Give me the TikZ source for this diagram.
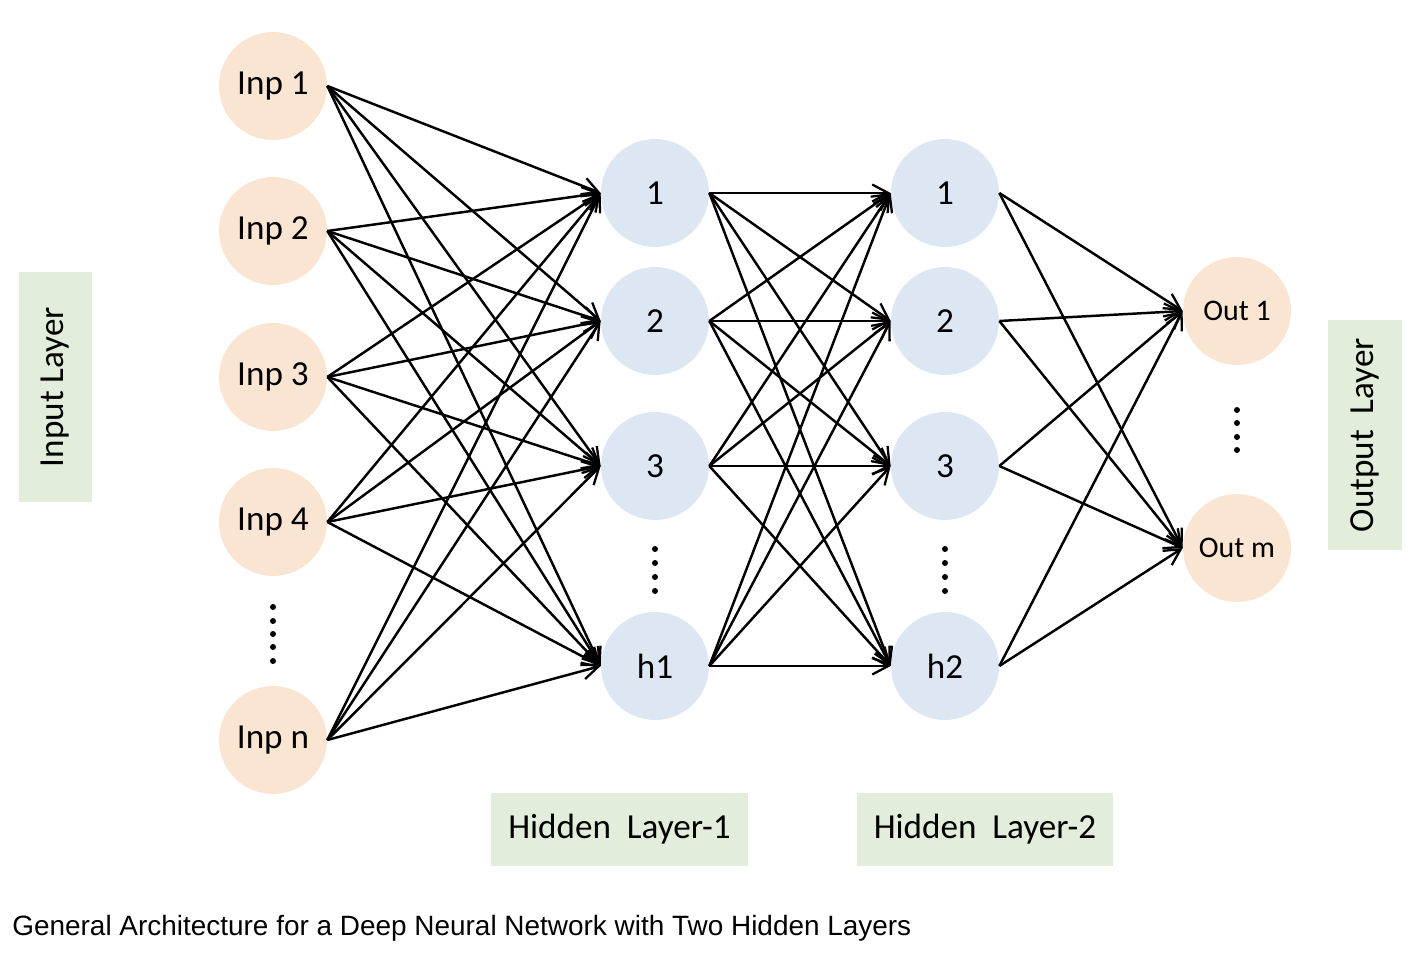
\documentclass[tikz,border=0pt]{standalone}
\usepackage{fontspec}
\setmainfont{Carlito}
\newfontfamily\captionfont{Liberation Sans}
\usetikzlibrary{arrows.meta}
\definecolor{peach}{RGB}{250,228,210}
\definecolor{paleblue}{RGB}{221,231,243}
\definecolor{palegreen}{RGB}{226,237,219}
\begin{document}
\begin{tikzpicture}[x=0.02cm,y=-0.02cm]

    \tikzset{
      inout/.style={
        circle,
        fill=peach,
        minimum size=2.16cm,
        inner sep=0pt,
        font=\fontsize{20}{24}\selectfont,
      },
      hidden/.style={
        circle,
        fill=paleblue,
        minimum size=2.16cm,
        inner sep=0pt,
        font=\fontsize{20}{24}\selectfont,
      },
      layerbox/.style={
        fill=palegreen,
        inner sep=0pt,
        font=\fontsize{20}{24}\selectfont,
      },
      link/.style={
        line width=1.4pt,
        -{Straight Barb[length=3.2mm,width=3.4mm,line width=1.3pt]},
      },
      dot/.style={
        fill=black,
      },
    }
    \useasboundingbox (0,0) rectangle (1420,962);

	% input layer
	\node[inout] (in1) at (273,86) {Inp 1};
	\node[inout] (in2) at (273,231) {Inp 2};
	\node[inout] (in3) at (273,377) {Inp 3};
	\node[inout] (in4) at (273,522) {Inp 4};
	\node[inout] (inn) at (273,740) {Inp n};
	% hidden layer 1
	\node[hidden] (ha1) at (655,193) {1};
	\node[hidden] (ha2) at (655,321) {2};
	\node[hidden] (ha3) at (655,466) {3};
	\node[hidden] (hah) at (655,666) {h1};
	% hidden layer 2
	\node[hidden] (hb1) at (945,193) {1};
	\node[hidden] (hb2) at (945,321) {2};
	\node[hidden] (hb3) at (945,466) {3};
	\node[hidden] (hbh) at (945,666) {h2};
	% output layer
	\node[inout,font=\fontsize{17}{20}\selectfont] (out1) at (1237,311) {Out 1};
	\node[inout,font=\fontsize{17}{20}\selectfont] (outm) at (1237,548) {Out m};

	% dots
	\fill[dot] (273,607) circle (3);
	\fill[dot] (273,621) circle (3);
	\fill[dot] (273,634) circle (3);
	\fill[dot] (273,647) circle (3);
	\fill[dot] (273,661) circle (3);
	\fill[dot] (655,549) circle (3);
	\fill[dot] (655,563) circle (3);
	\fill[dot] (655,577) circle (3);
	\fill[dot] (655,591) circle (3);
	\fill[dot] (945,549) circle (3);
	\fill[dot] (945,563) circle (3);
	\fill[dot] (945,577) circle (3);
	\fill[dot] (945,591) circle (3);
	\fill[dot] (1237,410) circle (3);
	\fill[dot] (1237,423) circle (3);
	\fill[dot] (1237,437) circle (3);
	\fill[dot] (1237,450) circle (3);

	% input -> hidden 1
	\draw[link] (in1.east) -- (ha1.west);
	\draw[link] (in1.east) -- (ha2.west);
	\draw[link] (in1.east) -- (ha3.west);
	\draw[link] (in1.east) -- (hah.west);
	\draw[link] (in2.east) -- (ha1.west);
	\draw[link] (in2.east) -- (ha2.west);
	\draw[link] (in2.east) -- (ha3.west);
	\draw[link] (in2.east) -- (hah.west);
	\draw[link] (in3.east) -- (ha1.west);
	\draw[link] (in3.east) -- (ha2.west);
	\draw[link] (in3.east) -- (ha3.west);
	\draw[link] (in3.east) -- (hah.west);
	\draw[link] (in4.east) -- (ha1.west);
	\draw[link] (in4.east) -- (ha2.west);
	\draw[link] (in4.east) -- (ha3.west);
	\draw[link] (in4.east) -- (hah.west);
	\draw[link] (inn.east) -- (ha1.west);
	\draw[link] (inn.east) -- (ha2.west);
	\draw[link] (inn.east) -- (ha3.west);
	\draw[link] (inn.east) -- (hah.west);
	% hidden 1 -> hidden 2
	\draw[link] (ha1.east) -- (hb1.west);
	\draw[link] (ha1.east) -- (hb2.west);
	\draw[link] (ha1.east) -- (hb3.west);
	\draw[link] (ha1.east) -- (hbh.west);
	\draw[link] (ha2.east) -- (hb1.west);
	\draw[link] (ha2.east) -- (hb2.west);
	\draw[link] (ha2.east) -- (hb3.west);
	\draw[link] (ha2.east) -- (hbh.west);
	\draw[link] (ha3.east) -- (hb1.west);
	\draw[link] (ha3.east) -- (hb2.west);
	\draw[link] (ha3.east) -- (hb3.west);
	\draw[link] (ha3.east) -- (hbh.west);
	\draw[link] (hah.east) -- (hb1.west);
	\draw[link] (hah.east) -- (hb2.west);
	\draw[link] (hah.east) -- (hb3.west);
	\draw[link] (hah.east) -- (hbh.west);
	% hidden 2 -> output
	\draw[link] (hb1.east) -- (out1.west);
	\draw[link] (hb1.east) -- (outm.west);
	\draw[link] (hb2.east) -- (out1.west);
	\draw[link] (hb2.east) -- (outm.west);
	\draw[link] (hb3.east) -- (out1.west);
	\draw[link] (hb3.east) -- (outm.west);
	\draw[link] (hbh.east) -- (out1.west);
	\draw[link] (hbh.east) -- (outm.west);

	% layer names
	\node[layerbox,rotate=90,minimum width=4.6cm,minimum height=1.46cm] (inlabel) at (55.5,387) {Input Layer};
	\node[layerbox,rotate=90,minimum width=4.6cm,minimum height=1.48cm] (outlabel) at (1365,435) {Output\ \ Layer};
	\node[layerbox,minimum width=5.14cm,minimum height=1.46cm] (halabel) at (619.5,829.5) {Hidden\ \ Layer-1};
	\node[layerbox,minimum width=5.12cm,minimum height=1.46cm] (hblabel) at (985,829.5) {Hidden\ \ Layer-2};

	\node[anchor=west,inner sep=0pt,font=\captionfont\fontsize{15.9}{19}\selectfont] (caption) at (12,928) {General Architecture for a Deep Neural Network with Two Hidden Layers};

\end{tikzpicture}
\end{document}
